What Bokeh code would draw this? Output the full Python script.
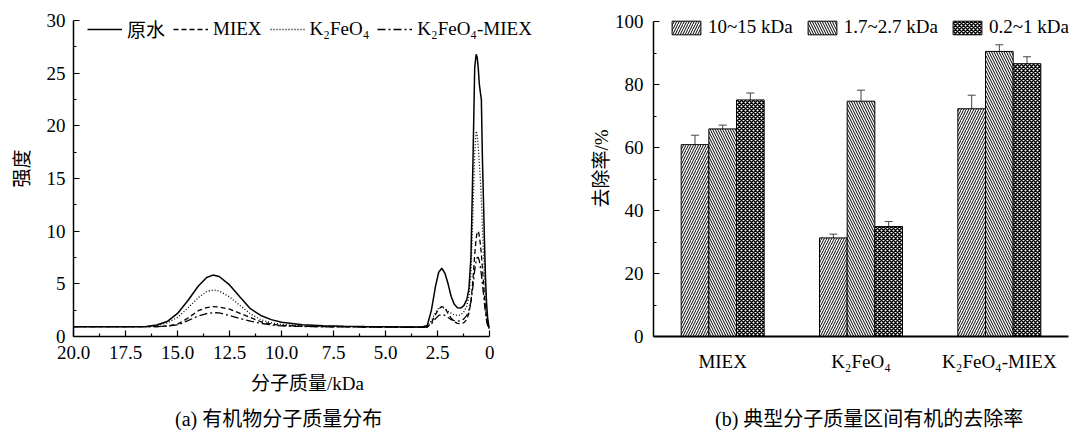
from bokeh.plotting import figure
from bokeh.layouts import row, column
from bokeh.models import (Range1d, FixedTicker, Legend, LegendItem, Div,
                          ColumnDataSource, Whisker, TeeHead, PrintfTickFormatter)
from bokeh.embed import file_html
from bokeh.resources import INLINE

# ---------------- data: (a) molecular weight distribution ----------------
kda = [20.0, 18.0, 17.0, 16.5, 16.0, 15.5, 15.0, 14.5, 14.0, 13.6, 13.3, 13.0, 12.5, 12.0,
       11.5, 11.0, 10.5, 10.0, 9.0, 8.0, 7.0, 6.0, 5.0, 4.0, 3.5, 3.2, 3.0, 2.8, 2.6, 2.45,
       2.3, 2.15, 2.0, 1.85, 1.7, 1.55, 1.4, 1.25, 1.1, 1.0, 0.9, 0.8, 0.72, 0.65, 0.6,
       0.55, 0.5, 0.45, 0.4, 0.35, 0.3, 0.25, 0.2, 0.15, 0.1, 0.05, 0.02]
raw_water = [0.93, 0.93, 0.93, 0.95, 1.09, 1.42, 2.19, 3.42, 4.8, 5.6, 5.83, 5.7, 4.9, 3.76,
             2.64, 2.0, 1.6, 1.35, 1.12, 1.02, 0.97, 0.94, 0.92, 0.9, 0.9, 0.92, 1.05, 2.5,
             4.8, 6.1, 6.48, 6.0, 5.0, 3.8, 3.05, 2.72, 2.7, 2.9, 3.5, 4.5, 7.5, 17.0, 25.5,
             26.8, 26.5, 25.5, 24.0, 23.2, 22.5, 17.0, 13.0, 9.0, 5.5, 3.2, 1.8, 1.1, 0.85]
miex = [0.93, 0.93, 0.93, 0.93, 0.94, 1.0, 1.18, 1.75, 2.45, 2.75, 2.83, 2.8, 2.6, 2.2,
        1.8, 1.4, 1.18, 1.05, 0.97, 0.93, 0.92, 0.9, 0.89, 0.88, 0.88, 0.88, 0.9, 1.3,
        2.1, 2.6, 2.85, 2.7, 2.2, 1.75, 1.4, 1.25, 1.2, 1.3, 1.6, 2.2, 3.3, 5.5, 7.8,
        9.3, 9.9, 10.0, 9.6, 8.8, 7.8, 6.5, 5.2, 3.8, 2.6, 1.7, 1.1, 0.85, 0.75]
k2feo4 = [0.93, 0.93, 0.93, 0.93, 1.04, 1.28, 1.82, 2.71, 3.69, 4.27, 4.42, 4.32, 3.76, 2.95,
          2.15, 1.6, 1.3, 1.15, 1.02, 0.97, 0.94, 0.92, 0.91, 0.89, 0.89, 0.9, 0.95, 1.5,
          2.3, 2.7, 2.8, 2.65, 2.4, 2.2, 2.05, 2.0, 2.05, 2.3, 2.9, 3.8, 6.0, 12.0, 17.5,
          19.5, 19.2, 18.0, 16.5, 15.0, 13.0, 10.5, 8.0, 6.0, 4.0, 2.5, 1.5, 1.0, 0.8]
k2feo4_miex = [0.93, 0.93, 0.93, 0.93, 0.94, 0.98, 1.1, 1.5, 1.95, 2.18, 2.26, 2.25, 2.0, 1.7,
               1.45, 1.25, 1.1, 1.0, 0.95, 0.92, 0.91, 0.9, 0.89, 0.88, 0.88, 0.88, 0.9, 1.2,
               1.7, 2.0, 2.1, 2.0, 1.8, 1.6, 1.5, 1.45, 1.5, 1.65, 2.0, 2.5, 3.3, 4.8, 6.3,
               7.2, 7.5, 7.5, 7.2, 6.6, 5.9, 5.0, 4.1, 3.1, 2.2, 1.5, 1.05, 0.85, 0.75]
series_names = ["原水", "MIEX", "K₂FeO₄", "K₂FeO₄-MIEX"]
x_ticks_a = [20.0, 17.5, 15.0, 12.5, 10.0, 7.5, 5.0, 2.5, 0.0]
y_ticks_a = [0, 5, 10, 15, 20, 25, 30]

# ---------------- data: (b) removal rates ----------------
groups = ["MIEX", "K₂FeO₄", "K₂FeO₄-MIEX"]
range_labels = ["10~15 kDa", "1.7~2.7 kDa", "0.2~1 kDa"]
removal_10_15 = [60.9, 31.3, 72.3]
removal_17_27 = [65.9, 74.7, 90.5]
removal_02_1 = [75.1, 34.9, 86.6]
err_10_15 = [3.0, 1.2, 4.3]
err_17_27 = [1.2, 3.5, 2.1]
err_02_1 = [2.2, 1.6, 2.2]
y_ticks_b = [0, 20, 40, 60, 80, 100]

caption_a = "(a) 有机物分子质量分布"
caption_b = "(b) 典型分子质量区间有机的去除率"

FONT = "'Liberation Serif', 'Noto Sans CJK SC', serif"
FS = "19px"


def style_axis(ax):
    ax.axis_line_color = "black"
    ax.axis_line_width = 1.5
    ax.major_tick_in = 6
    ax.major_tick_out = 0
    ax.minor_tick_in = 3
    ax.minor_tick_out = 0
    ax.major_tick_line_color = "black"
    ax.minor_tick_line_color = "black"
    ax.major_tick_line_width = 1.2
    ax.minor_tick_line_width = 1.2
    ax.major_label_text_font = FONT
    ax.major_label_text_font_size = FS
    ax.major_label_text_color = "black"
    ax.axis_label_text_font = FONT
    ax.axis_label_text_font_size = FS
    ax.axis_label_text_font_style = "normal"
    ax.axis_label_text_color = "black"


PH = 404      # plot height; captions go in a strip below
FRAME_B = 336  # pixel row of the x axes
# frames run to the canvas edges (top/right) so the in-plot legends are never clipped;
# axis bounds keep the drawn axis lines at the reference extent
# ================= figure (a) =================
p1 = figure(width=541, height=PH, x_range=Range1d(20, -2.49),
            y_range=Range1d(0, 30 * FRAME_B / (FRAME_B - 20)),
            output_backend="svg", toolbar_location=None,
            min_border_left=73, min_border_right=0, min_border_top=0,
            min_border_bottom=PH - FRAME_B)
p1.outline_line_color = None
p1.grid.visible = False
p1.background_fill_color = "white"
p1.border_fill_color = "white"

r_raw = p1.line(kda, raw_water, line_color="black", line_width=1.5)
r_miex = p1.line(kda, miex, line_color="black", line_width=1.3, line_dash="5 3")
r_k = p1.line(kda, k2feo4, line_color="black", line_width=1.3, line_dash="1 2")
r_km = p1.line(kda, k2feo4_miex, line_color="black", line_width=1.3, line_dash="8 3 2 3")

minor_a = [(x_ticks_a[i] + x_ticks_a[i + 1]) / 2 for i in range(len(x_ticks_a) - 1)]
p1.xaxis.ticker = FixedTicker(ticks=x_ticks_a, minor_ticks=minor_a)
p1.xaxis.formatter = PrintfTickFormatter(format="%.1f")
p1.xaxis.major_label_overrides = {0: "0"}
p1.xaxis.bounds = (min(x_ticks_a), max(x_ticks_a))
minor_ya = [(y_ticks_a[i] + y_ticks_a[i + 1]) / 2 for i in range(len(y_ticks_a) - 1)]
p1.yaxis.ticker = FixedTicker(ticks=y_ticks_a, minor_ticks=minor_ya)
p1.yaxis.bounds = (min(y_ticks_a), max(y_ticks_a))
for ax in (p1.xaxis[0], p1.yaxis[0]):
    style_axis(ax)
p1.xaxis.axis_label = "分子质量/kDa"
p1.yaxis.axis_label = "强度"
p1.xaxis.major_label_standoff = 9
p1.xaxis.axis_label_standoff = 11
p1.yaxis.major_label_standoff = 8
p1.yaxis.axis_label_standoff = 11

leg1 = Legend(items=[LegendItem(label=series_names[0], renderers=[r_raw]),
                     LegendItem(label=series_names[1], renderers=[r_miex]),
                     LegendItem(label=series_names[2], renderers=[r_k]),
                     LegendItem(label=series_names[3], renderers=[r_km])],
              orientation="horizontal", location=(14, FRAME_B - 42),
              label_text_font=FONT, label_text_font_size=FS, label_text_color="black",
              glyph_width=35, glyph_height=22, label_height=22, label_standoff=5,
              spacing=8, padding=0, margin=0, border_line_color=None,
              background_fill_alpha=0)
p1.add_layout(leg1)

# ================= figure (b) =================
positions = [i + 0.5 for i in range(len(groups))]
p2 = figure(width=541, height=PH, x_range=Range1d(0, 3 * 429 / 415),
            y_range=Range1d(0, 100 * FRAME_B / (FRAME_B - 21)),
            output_backend="svg", toolbar_location=None,
            min_border_left=112, min_border_right=0, min_border_top=0,
            min_border_bottom=PH - FRAME_B)
p2.outline_line_color = None
p2.grid.visible = False
p2.background_fill_color = "white"
p2.border_fill_color = "white"

bar_w = 0.2
offsets = [-bar_w, 0.0, bar_w]
values = [removal_10_15, removal_17_27, removal_02_1]
errors = [err_10_15, err_17_27, err_02_1]
patterns = [("/", 5, 1.0), ("\\", 5, 1.0), ("x", 4, 1.5)]
bar_renderers = []
for k in range(3):
    xs = [p + offsets[k] for p in positions]
    src = ColumnDataSource(dict(x=xs, top=values[k],
                                up=[v + e for v, e in zip(values[k], errors[k])],
                                lo=[v - e for v, e in zip(values[k], errors[k])]))
    pat, sc, wt = patterns[k]
    r = p2.vbar(x="x", top="top", width=bar_w, bottom=0, source=src,
                fill_color="white", line_color="black", line_width=1,
                hatch_pattern=pat, hatch_scale=sc, hatch_weight=wt, hatch_color="black")
    bar_renderers.append(r)
    w = Whisker(base="x", upper="up", lower="lo", source=src, line_color="#444444", line_width=1,
                upper_head=TeeHead(size=8, line_color="#444444", line_width=1),
                lower_head=TeeHead(size=8, line_color="#444444", line_width=1))
    p2.add_layout(w)

minor_yb = [(y_ticks_b[i] + y_ticks_b[i + 1]) / 2 for i in range(len(y_ticks_b) - 1)]
p2.yaxis.ticker = FixedTicker(ticks=y_ticks_b, minor_ticks=minor_yb)
p2.yaxis.bounds = (min(y_ticks_b), max(y_ticks_b))
p2.xaxis.ticker = FixedTicker(ticks=positions, minor_ticks=[])
p2.xaxis.major_label_overrides = {positions[i]: groups[i] for i in range(len(groups))}
p2.xaxis.bounds = (0, len(groups))
for ax in (p2.xaxis[0], p2.yaxis[0]):
    style_axis(ax)
p2.xaxis.axis_line_width = 2
p2.xaxis.major_tick_line_color = None
p2.xaxis.minor_tick_line_color = None
p2.xaxis.major_label_standoff = 14
p2.yaxis.axis_label = "去除率/%"
p2.yaxis.major_label_standoff = 10
p2.yaxis.axis_label_standoff = 0

leg2 = Legend(items=[LegendItem(label=range_labels[i], renderers=[bar_renderers[i]]) for i in range(3)],
              orientation="horizontal", location=(15, FRAME_B - 38),
              label_text_font=FONT, label_text_font_size=FS, label_text_color="black",
              glyph_width=36, glyph_height=17, label_height=17, label_standoff=4,
              spacing=11, padding=0, margin=0, border_line_color=None,
              background_fill_alpha=0)
p2.add_layout(leg2)


def caption_div(text, left):
    html = ('<div style="margin:0; padding:5px 0 0 %dpx; font-family:%s; font-size:20px; '
            'line-height:20px; white-space:nowrap; color:black;">%s</div>') % (left, FONT, text)
    return Div(text=html, width=541, height=430 - PH, margin=0)


d1 = caption_div(caption_a, 175)
d2 = caption_div(caption_b, 174)

layout = column(row(p1, p2), row(d1, d2))
open("out.html", "w").write(file_html(layout, INLINE))
